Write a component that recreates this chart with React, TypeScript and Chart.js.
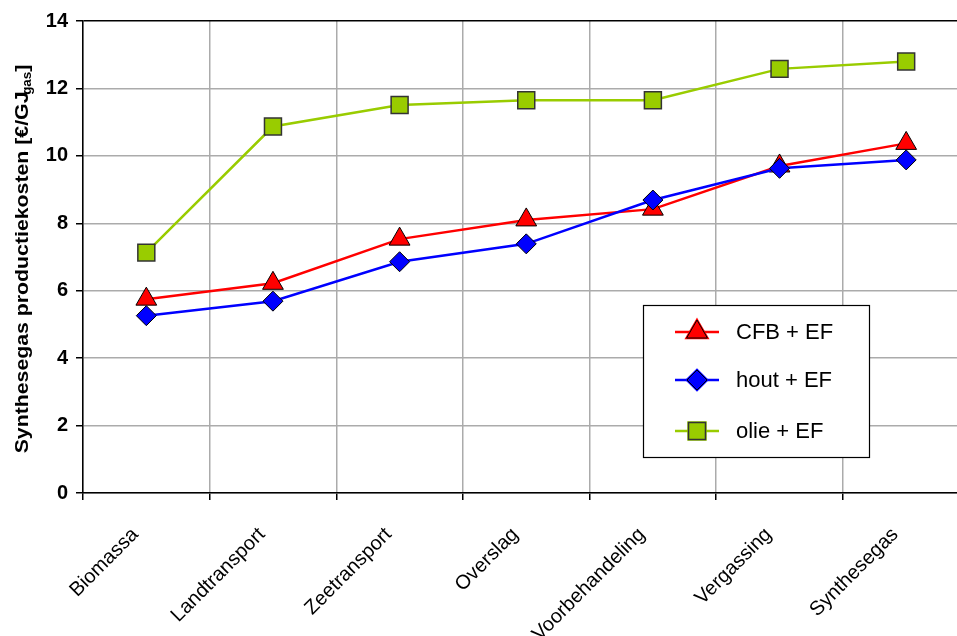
import { useEffect, useRef } from 'react';
import { Chart, registerables } from 'chart.js';
import { drawPoint } from 'chart.js/helpers';

Chart.register(...registerables);

// Process steps along the chain
const categories = [
  'Biomassa',
  'Landtransport',
  'Zeetransport',
  'Overslag',
  'Voorbehandeling',
  'Vergassing',
  'Synthesegas',
];

// Cumulative syngas production cost per route (€/GJ gas)
const cfbEF = [5.75, 6.22, 7.53, 8.1, 8.42, 9.7, 10.37];
const houtEF = [5.26, 5.69, 6.86, 7.39, 8.69, 9.63, 9.88];
const olieEF = [7.13, 10.87, 11.51, 11.65, 11.65, 12.58, 12.8];

const seriesNames = ['CFB + EF', 'hout + EF', 'olie + EF'];

const yMin = 0;
const yMax = 14;
const yStep = 2;

const FONT = '"Liberation Sans", Arial, Helvetica, sans-serif';
const GRID = '#ababab';

// Rotated axis title with a subscript unit
const yTitlePlugin = {
  id: 'yTitle',
  afterDraw(chart: any) {
    const { ctx, chartArea } = chart;
    const main = 'Synthesegas productiekosten [€/GJ';
    const sub = 'gas';
    const close = ']';
    ctx.save();
    ctx.translate(28, (chartArea.top + chartArea.bottom) / 2 + 2);
    ctx.rotate(-Math.PI / 2);
    ctx.scale(1.12, 1);
    ctx.fillStyle = '#000';
    ctx.textBaseline = 'alphabetic';
    ctx.textAlign = 'left';
    ctx.font = `bold 19px ${FONT}`;
    const w1 = ctx.measureText(main).width;
    const w3 = ctx.measureText(close).width;
    ctx.font = `bold 12px ${FONT}`;
    const w2 = ctx.measureText(sub).width;
    const total = w1 + w2 + w3 - 3;
    let x = -total / 2;
    ctx.font = `bold 19px ${FONT}`;
    ctx.fillText(main, x, 0);
    x += w1 - 3;
    ctx.font = `bold 12px ${FONT}`;
    ctx.fillText(sub, x, 3);
    x += w2;
    ctx.font = `bold 19px ${FONT}`;
    ctx.fillText(close, x, 0);
    ctx.restore();
  },
};

// Boxed legend placed inside the plot area
const boxLegendPlugin = {
  id: 'boxLegend',
  afterDraw(chart: any) {
    const { ctx } = chart;
    const bx = 643;
    const by = 305;
    const bw = 226;
    const bh = 152;
    ctx.save();
    ctx.fillStyle = '#fff';
    ctx.fillRect(bx, by, bw, bh);
    ctx.strokeStyle = '#000';
    ctx.lineWidth = 1.2;
    ctx.strokeRect(bx + 0.5, by + 0.5, bw, bh);
    const rows = [332, 380, 431];
    chart.data.datasets.forEach((ds: any, i: number) => {
      const y = rows[i];
      ctx.strokeStyle = ds.borderColor;
      ctx.lineWidth = ds.borderWidth;
      ctx.beginPath();
      ctx.moveTo(675, y);
      ctx.lineTo(719, y);
      ctx.stroke();
      drawPoint(
        ctx,
        {
          pointStyle: ds.pointStyle,
          radius: ds.legendRadius,
          rotation: 0,
          borderWidth: ds.pointBorderWidth,
        } as any,
        697,
        y
      );
      ctx.fillStyle = ds.pointBackgroundColor;
      ctx.strokeStyle = ds.pointBorderColor;
      ctx.lineWidth = ds.pointBorderWidth;
      ctx.fill();
      ctx.stroke();
      ctx.fillStyle = '#000';
      ctx.font = `22px ${FONT}`;
      ctx.textBaseline = 'middle';
      ctx.textAlign = 'left';
      ctx.fillText(seriesNames[i], 736, y + 1);
    });
    ctx.restore();
  },
};

export default function App() {
  const canvasRef = useRef<HTMLCanvasElement | null>(null);

  useEffect(() => {
    if (!canvasRef.current) return;
    const chart = new Chart(canvasRef.current, {
      type: 'line',
      data: {
        labels: categories,
        datasets: [
          {
            label: seriesNames[0],
            data: cfbEF,
            borderColor: '#ff0000',
            backgroundColor: '#ff0000',
            pointBackgroundColor: '#ff0000',
            pointBorderColor: '#000',
            pointBorderWidth: 1,
            pointStyle: 'triangle',
            pointRadius: 12,
            legendRadius: 12,
            borderWidth: 2.5,
            tension: 0,
            order: 2,
          } as any,
          {
            label: seriesNames[1],
            data: houtEF,
            borderColor: '#0000ff',
            backgroundColor: '#0000ff',
            pointBackgroundColor: '#0000ff',
            pointBorderColor: '#000',
            pointBorderWidth: 1,
            pointStyle: 'rectRot',
            pointRadius: 10,
            legendRadius: 10,
            borderWidth: 2.5,
            tension: 0,
            order: 1,
          } as any,
          {
            label: seriesNames[2],
            data: olieEF,
            borderColor: '#99cc00',
            backgroundColor: '#99cc00',
            pointBackgroundColor: '#99cc00',
            pointBorderColor: '#333',
            pointBorderWidth: 1.5,
            pointStyle: 'rect',
            pointRadius: 12,
            legendRadius: 12,
            borderWidth: 2.5,
            tension: 0,
            order: 3,
          } as any,
        ],
      },
      options: {
        responsive: false,
        animation: false,
        events: [],
        layout: { padding: { top: 21, right: 6, left: 0, bottom: 0 } },
        plugins: {
          legend: { display: false },
          tooltip: { enabled: false },
        },
        scales: {
          x: {
            offset: true,
            grid: {
              offset: true,
              color: GRID,
              lineWidth: 1.5,
              tickColor: '#000',
              tickLength: 7,
            },
            border: { color: '#000', width: 1.5 },
            ticks: {
              autoSkip: false,
              minRotation: 45,
              maxRotation: 45,
              color: '#000',
              padding: 23,
              labelOffset: -11,
              font: { family: FONT, size: 20 },
            },
            afterFit: (s: any) => {
              s.height = 143;
            },
          },
          y: {
            min: yMin,
            max: yMax,
            ticks: {
              stepSize: yStep,
              color: '#000',
              padding: 8,
              font: { family: FONT, size: 20, weight: 'bold' },
            },
            grid: {
              color: (c: any) => (c.tick && c.tick.value === yMax ? '#000' : GRID),
              lineWidth: 1.5,
              tickColor: '#000',
              tickLength: 7,
            },
            border: { color: '#000', width: 1.5 },
            afterFit: (s: any) => {
              s.width = 83;
            },
          },
        },
      } as any,
      plugins: [yTitlePlugin, boxLegendPlugin],
    });
    return () => chart.destroy();
  }, []);

  return (
    <div
      style={{
        position: 'fixed',
        left: 0,
        top: 0,
        width: 957,
        height: 636,
        overflow: 'hidden',
        background: '#fff',
      }}
    >
      <canvas ref={canvasRef} width={983} height={636} style={{ display: 'block' }} />
    </div>
  );
}
